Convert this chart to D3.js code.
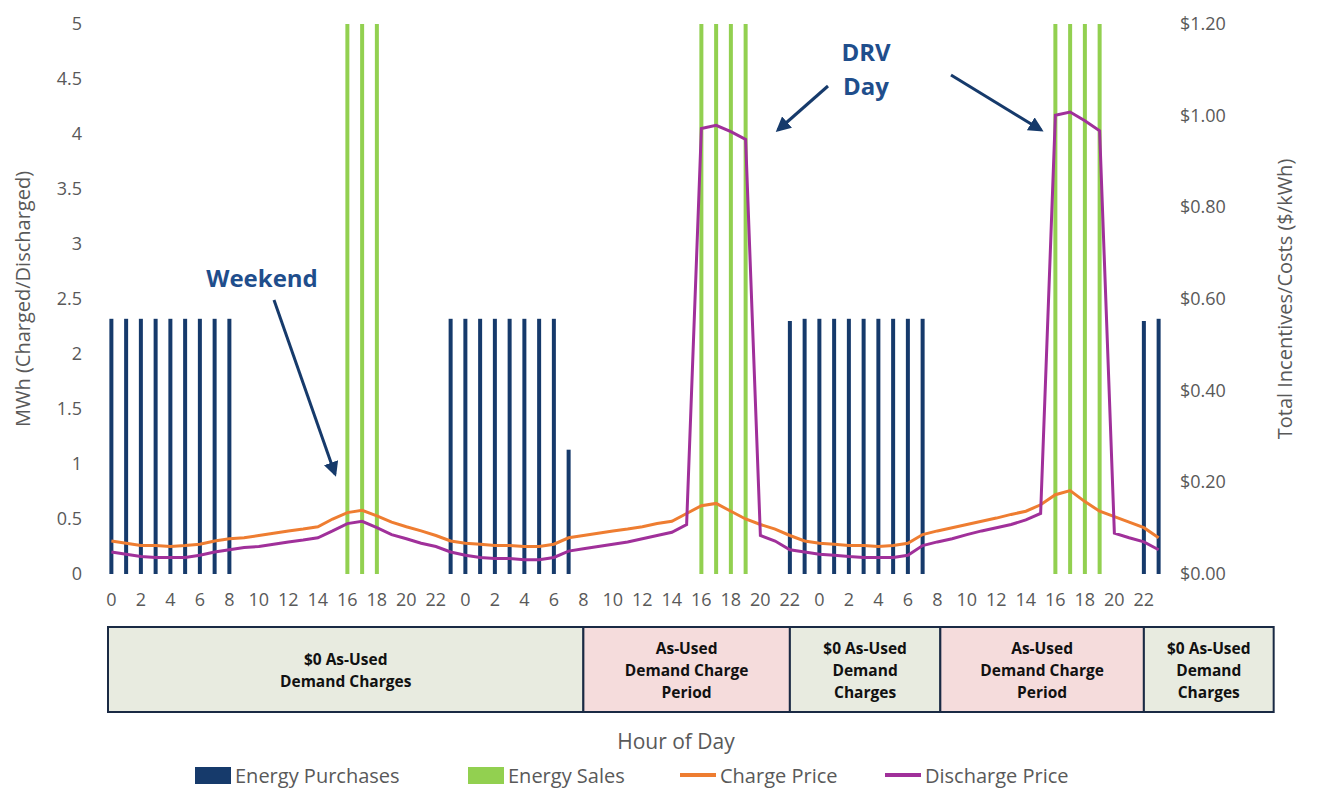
<!DOCTYPE html>
<html><head><meta charset="utf-8">
<script src="https://cdn.jsdelivr.net/npm/d3@7"></script>
<style>body{margin:0;background:#fff;font-family:"Open Sans","Liberation Sans",sans-serif}</style>
</head><body><svg id="c" width="1320" height="800"></svg>
<script>
const hours = d3.range(72);
const hourLabels = hours.map(i => i % 24);
const purchases = [2.32,2.32,2.32,2.32,2.32,2.32,2.32,2.32,2.32,0,0,0,0,0,0,0,0,0,0,0,0,0,0,2.32,
 2.32,2.32,2.32,2.32,2.32,2.32,2.32,1.13,0,0,0,0,0,0,0,0,0,0,0,0,0,0,2.3,2.32,
 2.32,2.32,2.32,2.32,2.32,2.32,2.32,2.32,0,0,0,0,0,0,0,0,0,0,0,0,0,0,2.3,2.32];
const sales = [0,0,0,0,0,0,0,0,0,0,0,0,0,0,0,0,5,5,5,0,0,0,0,0,
 0,0,0,0,0,0,0,0,0,0,0,0,0,0,0,0,5,5,5,5,0,0,0,0,
 0,0,0,0,0,0,0,0,0,0,0,0,0,0,0,0,5,5,5,5,0,0,0,0];
// prices in $/kWh (right axis)
const chargePrice = [0.072,0.067,0.062,0.062,0.060,0.062,0.065,0.072,0.077,0.079,0.084,0.089,0.094,0.098,0.103,0.120,0.134,0.139,0.127,0.113,0.103,0.094,0.084,0.072,
 0.067,0.065,0.062,0.062,0.060,0.060,0.065,0.079,0.084,0.089,0.094,0.098,0.103,0.110,0.115,0.132,0.149,0.154,0.137,0.120,0.108,0.098,0.084,0.072,
 0.067,0.065,0.062,0.062,0.060,0.062,0.067,0.086,0.094,0.101,0.108,0.115,0.122,0.130,0.137,0.151,0.173,0.182,0.158,0.137,0.125,0.113,0.101,0.079];
const dischargePrice = [0.048,0.043,0.038,0.036,0.036,0.036,0.041,0.048,0.053,0.058,0.060,0.065,0.070,0.074,0.079,0.094,0.110,0.115,0.101,0.086,0.077,0.067,0.060,0.048,
 0.041,0.036,0.034,0.034,0.031,0.031,0.036,0.050,0.055,0.060,0.065,0.070,0.077,0.084,0.091,0.108,0.972,0.979,0.965,0.948,0.084,0.072,0.053,0.048,
 0.043,0.041,0.038,0.036,0.036,0.036,0.041,0.062,0.070,0.077,0.086,0.094,0.101,0.108,0.118,0.132,1.001,1.008,0.989,0.967,0.089,0.079,0.070,0.053];
const leftTicks = [0,0.5,1,1.5,2,2.5,3,3.5,4,4.5,5];
const rightTicks = [0,0.2,0.4,0.6,0.8,1.0,1.2];
const periods = [
 {from:0,to:32.5,label:["$0 As-Used","Demand Charges"],bold:[true,true],fill:"#e8ebe0"},
 {from:32.5,to:46.5,label:["As-Used","Demand Charge","Period"],fill:"#f5dcdc"},
 {from:46.5,to:56.7,label:["$0 As-Used","Demand","Charges"],fill:"#e8ebe0"},
 {from:56.7,to:70.5,label:["As-Used","Demand Charge","Period"],fill:"#f5dcdc"},
 {from:70.5,to:79.3,label:["$0 As-Used","Demand","Charges"],fill:"#e8ebe0"}];
const NAVY="#163a6b", GREEN="#92d050", ORANGE="#ee7d31", PURPLE="#a0309a", GRAY="#595959";

const svg=d3.select("#c");
const x=d3.scaleBand().domain(hours).range([104,1166]);
const yL=d3.scaleLinear().domain([0,5]).range([574,24]);
const yR=d3.scaleLinear().domain([0,1.2]).range([574,24]);
const cx=i=>x(i)+x.bandwidth()/2;

svg.append("g").selectAll("rect").data(hours.filter(i=>purchases[i]>0)).join("rect")
 .attr("x",i=>cx(i)-2).attr("width",4).attr("y",i=>yL(purchases[i])).attr("height",i=>yL(0)-yL(purchases[i])).attr("fill",NAVY);
svg.append("g").selectAll("rect").data(hours.filter(i=>sales[i]>0)).join("rect")
 .attr("x",i=>cx(i)-2).attr("width",4).attr("y",i=>yL(sales[i])).attr("height",i=>yL(0)-yL(sales[i])).attr("fill",GREEN);
const line=arr=>d3.line().x(i=>cx(i)).y(i=>yR(arr[i]))(hours);
svg.append("path").attr("d",line(chargePrice)).attr("fill","none").attr("stroke",ORANGE).attr("stroke-width",3);
svg.append("path").attr("d",line(dischargePrice)).attr("fill","none").attr("stroke",PURPLE).attr("stroke-width",3);

const tf={"font-size":18,"fill":GRAY};
svg.append("g").selectAll("text").data(leftTicks).join("text").attr("x",82).attr("y",d=>yL(d)+6).attr("text-anchor","end")
 .attr("font-size",18).attr("fill",GRAY).text(d=>d);
svg.append("g").selectAll("text").data(rightTicks).join("text").attr("x",1180).attr("y",d=>yR(d)+6)
 .attr("font-size",18).attr("fill",GRAY).text(d=>"$"+d.toFixed(2));
svg.append("g").selectAll("text").data(hours.filter(i=>i%2===0)).join("text").attr("x",i=>cx(i)).attr("y",606).attr("text-anchor","middle")
 .attr("font-size",18).attr("fill",GRAY).text(i=>hourLabels[i]);
svg.append("text").attr("transform","translate(30,299) rotate(-90)").attr("text-anchor","middle").attr("font-size",20).attr("fill",GRAY).text("MWh (Charged/Discharged)");
svg.append("text").attr("transform","translate(1292,299) rotate(-90)").attr("text-anchor","middle").attr("font-size",20).attr("fill",GRAY).text("Total Incentives/Costs ($/kWh)");
svg.append("text").attr("x",676).attr("y",749).attr("text-anchor","middle").attr("font-size",21).attr("fill",GRAY).text("Hour of Day");

// periods
const px=v=>104+v*x.step();
const pg=svg.append("g");
periods.forEach(p=>{
 const x0=Math.max(108,px(p.from)), x1=Math.min(1277,px(p.to));
 pg.append("rect").attr("x",x0).attr("y",627).attr("width",x1-x0).attr("height",85).attr("fill",p.fill).attr("stroke","#1a2a44").attr("stroke-width",2);
 const n=p.label.length, mid=669.5;
 p.label.forEach((t,k)=>pg.append("text").attr("x",(x0+x1)/2).attr("y",mid+(k-(n-1)/2)*22+6).attr("text-anchor","middle")
  .attr("font-size",15.5).attr("font-weight","bold").attr("fill","#111").text(t));
});

// annotations
svg.append("defs").append("marker").attr("id","ah").attr("viewBox","0 0 10 10").attr("refX",8).attr("refY",5)
 .attr("markerWidth",5).attr("markerHeight",5).attr("orient","auto").append("path").attr("d","M0,0L10,5L0,10z").attr("fill",NAVY);
const ann=(x1,y1,x2,y2)=>svg.append("line").attr("x1",x1).attr("y1",y1).attr("x2",x2).attr("y2",y2).attr("stroke",NAVY).attr("stroke-width",3).attr("marker-end","url(#ah)");
ann(274,300,335,474); ann(828,86,778,130); ann(951,75,1041,130);
svg.append("text").attr("x",262).attr("y",287).attr("text-anchor","middle").attr("font-size",24).attr("font-weight","bold").attr("fill","#1f4e8c").text("Weekend");
svg.append("text").attr("x",866).attr("y",61).attr("text-anchor","middle").attr("font-size",24).attr("font-weight","bold").attr("fill","#1f4e8c").text("DRV");
svg.append("text").attr("x",866).attr("y",95).attr("text-anchor","middle").attr("font-size",24).attr("font-weight","bold").attr("fill","#1f4e8c").text("Day");

// legend
const lg=[{t:"Energy Purchases",c:NAVY,x:195,k:"bar"},{t:"Energy Sales",c:GREEN,x:468,k:"bar"},{t:"Charge Price",c:ORANGE,x:680,k:"line"},{t:"Discharge Price",c:PURPLE,x:885,k:"line"}];
lg.forEach(d=>{
 if(d.k==="bar") svg.append("rect").attr("x",d.x).attr("y",767).attr("width",36).attr("height",17).attr("fill",d.c);
 else svg.append("line").attr("x1",d.x).attr("x2",d.x+36).attr("y1",775).attr("y2",775).attr("stroke",d.c).attr("stroke-width",4);
 svg.append("text").attr("x",d.x+40).attr("y",783).attr("font-size",20).attr("fill",GRAY).text(d.t);
});
</script></body></html>
